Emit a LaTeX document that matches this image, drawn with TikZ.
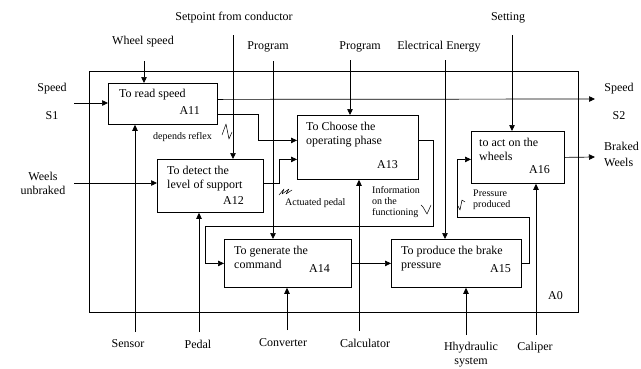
\documentclass[tikz,border=0pt]{standalone}
\usepackage{fontspec}
\setmainfont{Liberation Serif}
\usetikzlibrary{arrows.meta}
\def\sc{1pt}
\def\fsmain{\fontsize{12}{14}\selectfont}
\def\fsnote{\fontsize{10}{11}\selectfont}
\tikzset{
  proc/.style={draw, line width=.8pt, anchor=north west, inner sep=0pt},
  flow/.style={line width=.7pt, -{Triangle[length=6pt,width=5.5pt]}},
  lbl/.style={font=\fsmain, inner sep=0pt},
  title/.style={font=\fsmain, align=left, anchor=north west, inner sep=0pt},
  code/.style={font=\fsmain, anchor=east, inner sep=0pt},
  note/.style={font=\fsnote, align=left, inner sep=0pt},
  tick/.style={line width=.5pt, line join=round, line cap=round},
}

\begin{document}
\begin{tikzpicture}[x=\sc, y=-\sc]
\useasboundingbox (0,0) rectangle (641,368);
% frame A0
\node [proc, minimum width=489pt, minimum height=241pt] (a0) at (89,71) {};
\node [code] (a0c) at (563,296) {A0};
% activities
\node [proc, minimum width=109pt, minimum height=41pt] (a11) at (108,83) {};
\node [title] (a11t) at (119,89) {To read speed};
\node [code] (a11c) at (200,111) {A11};
\node [proc, minimum width=106pt, minimum height=53pt] (a12) at (157,159) {};
\node [title] (a12t) at (167,166) {To detect the\\level of support};
\node [code] (a12c) at (244,201) {A12};
\node [proc, minimum width=121pt, minimum height=64pt] (a13) at (297,115) {};
\node [title] (a13t) at (306,122) {To Choose the\\operating phase};
\node [code] (a13c) at (398,165) {A13};
\node [proc, minimum width=127pt, minimum height=48pt] (a14) at (224,239) {};
\node [title] (a14t) at (234,246) {To generate the\\command};
\node [code] (a14c) at (330,269) {A14};
\node [proc, minimum width=130pt, minimum height=48pt] (a15) at (391,239) {};
\node [title] (a15t) at (401,246) {To produce the brake\\pressure};
\node [code] (a15c) at (511,269) {A15};
\node [proc, minimum width=93pt, minimum height=52pt] (a16) at (471,131) {};
\node [title] (a16t) at (479,138) {to act on the\\wheels};
\node [code] (a16c) at (550,170) {A16};
% outer labels
\node [lbl] (wheel) at (143,42) {Wheel speed};
\node [lbl] (setpt) at (234,18) {Setpoint from conductor};
\node [lbl] (progone) at (268,47) {Program};
\node [lbl] (progtwo) at (360,47) {Program};
\node [lbl] (elec) at (439,47) {Electrical Energy};
\node [lbl] (setting) at (508,18) {Setting};
\node [lbl] (speedl) at (52,89) {Speed};
\node [lbl] (sone) at (52,116) {S1};
\node [lbl, align=center] (weels) at (43,183.5) {Weels\\unbraked};
\node [lbl] (speedr) at (619,89) {Speed};
\node [lbl] (stwo) at (619,116) {S2};
\node [lbl, align=left, anchor=west, font=\fontsize{12}{16}\selectfont] (braked) at (604,154.5) {Braked\\Weels};
\node [lbl] (sensor) at (128,344) {Sensor};
\node [lbl] (pedal) at (198,344) {Pedal};
\node [lbl] (conv) at (283,343) {Converter};
\node [lbl] (calc) at (365,343) {Calculator};
\node [lbl, align=center] (hyd) at (471,355) {Hhydraulic\\system};
\node [lbl] (caliper) at (535,348) {Caliper};
% notes
\node [note, anchor=west] (reflex) at (153,137) {depends reflex};
\node [note, anchor=west] (actped) at (285,203) {Actuated pedal};
\node [note, anchor=north west] (info) at (372,186) {Information\\on the\\functioning};
\node [note, anchor=north west] (press) at (473,190) {Pressure\\produced};
% free ends
\coordinate (wheelin) at (144,61);
\coordinate (setptin) at (233,35);
\coordinate (progonein) at (273,61);
\coordinate (progtwoin) at (350,60);
\coordinate (elecin) at (445,60);
\coordinate (settingin) at (512,35);
\coordinate (speedin) at (74,103);
\coordinate (weelsin) at (74,183);
\coordinate (speedout) at (595,99);
\coordinate (brakedout) at (595,157);
\coordinate (sensorin) at (135,332);
\coordinate (pedalin) at (199,332);
\coordinate (convin) at (287,330);
\coordinate (calcin) at (359,331);
\coordinate (hydin) at (466,335);
\coordinate (caliperin) at (536,335);
\coordinate (infoloop) at (205,226);
\coordinate (pressloop) at (457,217);
% controls
\draw [flow] (wheelin) -- (wheelin |- a11.north);
\draw [flow] (setptin) -- (setptin |- a12.north);
\draw [flow] (progonein) -- (progonein |- a14.north);
\draw [flow] (progtwoin) -- (progtwoin |- a13.north);
\draw [flow] (elecin) -- (elecin |- a15.north);
\draw [flow] (settingin) -- (settingin |- a16.north);
% inputs and outputs
\draw [flow] (speedin) -- (speedin -| a11.west);
\draw [flow] (weelsin) -- (weelsin -| a12.west);
\draw [flow] ([yshift=4.5pt]a11.east) -- (speedout);
\draw [flow] ([yshift=-10.5pt]a11.east) -- ++(41pt,0) |- ([yshift=7pt]a13.west);
\draw [flow] ([yshift=2.5pt]a12.east) -- ++(16pt,0) |- ([yshift=-12pt]a13.west);
\draw [flow] ([yshift=7pt]a13.east) -- ++(15pt,0) |- (infoloop) |- (a14.west);
\draw [flow] (a14.east) -- (a15.west);
\draw [flow] (a15.east) -- ++(8pt,0) |- (pressloop) |- ([yshift=-2pt]a16.west);
\draw [flow] (a16.east) -- (brakedout);
% mechanisms
\draw [flow] (sensorin) -- (sensorin |- a11.south);
\draw [flow] (pedalin) -- (pedalin |- a12.south);
\draw [flow] (convin) -- (convin |- a14.south);
\draw [flow] (calcin) -- (calcin |- a13.south);
\draw [flow] (hydin) -- (hydin |- a15.south);
\draw [flow] (caliperin) -- (caliperin |- a16.south);
% squiggles
\draw [tick] (222,135) -- (226,124) -- (229,139) -- (232,132);
\draw [tick] (279,195) -- (284,189) -- (282,194) -- (289,189) -- (286,194) -- (292,190);
\draw [tick] (421,205) -- (423,207) -- (427,214) -- (431,205);
\draw [tick] (458,206) -- (460,210) -- (462,200) -- (465,202);
\end{tikzpicture}
\end{document}
